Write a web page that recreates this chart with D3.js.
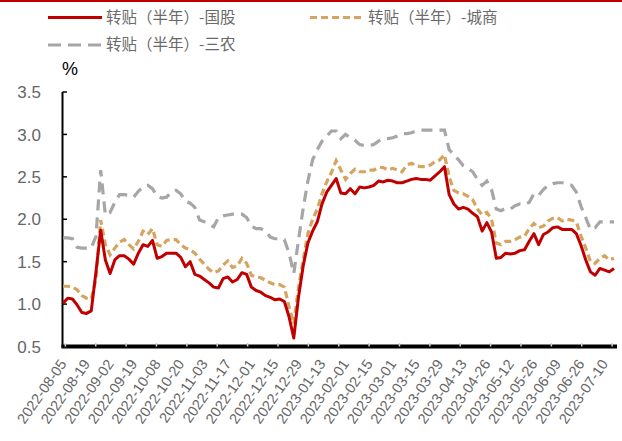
<!DOCTYPE html>
<html><head><meta charset="utf-8">
<script src="https://cdn.jsdelivr.net/npm/d3@7"></script>
<style>html,body{margin:0;padding:0;background:#fff;}svg{display:block;}</style>
</head><body>
<script>
// x tick labels (every 5th data point; one data point = 2 trading days)
const labelDates = ["2022-08-05","2022-08-19","2022-09-02","2022-09-19","2022-10-08","2022-10-20","2022-11-03","2022-11-17","2022-12-01","2022-12-15","2022-12-29","2023-01-13","2023-02-01","2023-02-15","2023-03-01","2023-03-15","2023-03-29","2023-04-13","2023-04-26","2023-05-12","2023-05-26","2023-06-09","2023-06-26","2023-07-10"];
const seriesNames = ["转贴（半年）-国股","转贴（半年）-城商","转贴（半年）-三农"];
const guogu = [1.01,1.07,1.06,0.99,0.90,0.89,0.92,1.38,1.87,1.52,1.36,1.52,1.57,1.57,1.53,1.47,1.60,1.70,1.68,1.75,
1.54,1.56,1.60,1.60,1.60,1.55,1.44,1.50,1.35,1.33,1.29,1.25,1.20,1.19,1.30,1.32,1.26,1.29,1.37,1.35,
1.20,1.16,1.14,1.10,1.08,1.05,1.06,1.03,0.85,0.60,1.08,1.45,1.72,1.86,1.97,2.18,2.32,2.40,2.48,2.31,
2.30,2.36,2.30,2.38,2.37,2.38,2.40,2.45,2.44,2.46,2.45,2.43,2.43,2.45,2.47,2.48,2.47,2.47,2.46,2.51,
2.56,2.62,2.29,2.18,2.12,2.14,2.12,2.07,2.03,1.86,1.96,1.85,1.54,1.55,1.60,1.59,1.60,1.63,1.64,1.74,
1.83,1.70,1.82,1.85,1.90,1.91,1.88,1.88,1.88,1.83,1.69,1.52,1.38,1.34,1.42,1.40,1.38,1.42];
const chengshang = [1.21,1.21,1.20,1.17,1.10,1.07,1.06,1.30,1.99,1.70,1.58,1.66,1.73,1.76,1.70,1.65,1.74,1.86,1.82,1.89,
1.70,1.68,1.75,1.76,1.76,1.70,1.66,1.64,1.60,1.53,1.47,1.41,1.37,1.39,1.46,1.51,1.43,1.45,1.54,1.48,
1.34,1.32,1.31,1.28,1.25,1.23,1.23,1.20,0.97,0.77,1.19,1.52,1.83,2.00,2.12,2.30,2.44,2.55,2.69,2.58,
2.47,2.54,2.59,2.56,2.56,2.58,2.58,2.61,2.61,2.58,2.60,2.58,2.56,2.64,2.66,2.63,2.62,2.62,2.64,2.68,
2.70,2.76,2.50,2.34,2.31,2.30,2.27,2.23,2.12,2.05,2.08,2.00,1.72,1.70,1.74,1.74,1.76,1.79,1.80,1.89,
1.95,1.90,1.92,1.98,2.01,2.02,1.98,2.00,1.99,1.97,1.80,1.66,1.50,1.48,1.54,1.57,1.52,1.54];
const sannong = [1.78,1.78,1.77,1.67,1.66,1.66,1.66,1.80,2.58,2.05,2.08,2.20,2.29,2.29,2.28,2.26,2.33,2.38,2.40,2.36,
2.27,2.25,2.26,2.32,2.34,2.30,2.21,2.19,2.14,1.99,1.97,1.94,1.91,2.02,2.04,2.05,2.06,2.06,2.06,2.02,
1.92,1.89,1.89,1.86,1.79,1.77,1.77,1.76,1.60,1.36,1.75,2.13,2.45,2.70,2.82,2.92,2.98,3.04,3.04,2.95,
3.00,2.96,2.93,2.88,2.87,2.87,2.88,2.92,2.95,2.95,2.96,2.98,3.01,3.01,3.02,3.04,3.05,3.05,3.05,3.05,
3.05,3.05,2.82,2.76,2.70,2.63,2.60,2.56,2.47,2.40,2.45,2.35,2.12,2.10,2.13,2.12,2.16,2.18,2.17,2.20,
2.30,2.28,2.35,2.40,2.42,2.43,2.43,2.42,2.40,2.32,2.15,2.02,1.88,1.90,1.97,1.97,1.97,1.97];
const yTicks = [0.5,1.0,1.5,2.0,2.5,3.0,3.5];

const W = 622, H = 441;
const svg = d3.select("body").append("svg").attr("width", W).attr("height", H);
const n = guogu.length;
const x = d3.scaleLinear().domain([0, n - 1]).range([63, 614]);
const y = d3.scaleLinear().domain([0.5, 3.5]).range([346.5, 92]);

// top red band
svg.append("rect").attr("x", 0).attr("y", 0).attr("width", W).attr("height", 2).attr("fill", "#c00000");

// y axis
svg.append("line").attr("x1", 62.5).attr("x2", 62.5).attr("y1", y(3.5)).attr("y2", 348).attr("stroke", "#000").attr("stroke-width", 2);
svg.selectAll(".ytick").data(yTicks).enter().append("line")
  .attr("x1", 62.5).attr("x2", 67).attr("y1", d => y(d)).attr("y2", d => y(d))
  .attr("stroke", "#000").attr("stroke-width", 1.5);
svg.selectAll(".ylab").data(yTicks).enter().append("text")
  .attr("x", 41).attr("y", d => y(d)).attr("dy", "0.36em").attr("text-anchor", "end")
  .attr("font-family", "Liberation Sans, Arial, sans-serif").attr("font-size", 17).attr("fill", "#666")
  .text(d => d.toFixed(1));

// % unit
svg.append("text").attr("x", 70).attr("y", 75).attr("text-anchor", "middle")
  .attr("font-family", "Liberation Sans, Arial, sans-serif").attr("font-size", 18).attr("fill", "#000").text("%");

// lines
const line = d3.line().x((d, i) => x(i)).y(d => y(d)).curve(d3.curveLinear);
svg.append("path").datum(sannong).attr("d", line).attr("fill", "none")
  .attr("stroke", "#a6a6a6").attr("stroke-width", 3.2).attr("stroke-dasharray", "11,7");
svg.append("path").datum(chengshang).attr("d", line).attr("fill", "none")
  .attr("stroke", "#d6a461").attr("stroke-width", 3.2).attr("stroke-dasharray", "7,4");
svg.append("path").datum(guogu).attr("d", line).attr("fill", "none")
  .attr("stroke", "#c00000").attr("stroke-width", 3).attr("stroke-linejoin", "round");

// x axis
svg.append("line").attr("x1", 61.5).attr("x2", 617).attr("y1", 346.5).attr("y2", 346.5).attr("stroke", "#000").attr("stroke-width", 4);
const tickPos = d3.range(19).map(j => 0.5 + j * 6.45);
svg.selectAll(".xtick").data(tickPos).enter().append("line")
  .attr("x1", d => x(d)).attr("x2", d => x(d)).attr("y1", 343).attr("y2", 346.5)
  .attr("stroke", "#d0d0d0").attr("stroke-width", 1.5);
svg.selectAll(".xlab").data(labelDates).enter().append("text")
  .attr("transform", (d, i) => `translate(${x(i * 5)},361) rotate(-55)`)
  .attr("dy", "0.35em").attr("text-anchor", "end")
  .attr("font-family", "Liberation Sans, Arial, sans-serif").attr("font-size", 14.5).attr("fill", "#666")
  .text(d => d);

// legend
const legend = [
  {name: seriesNames[0], color: "#c00000", dash: null, x: 48, y: 17.5},
  {name: seriesNames[1], color: "#d6a461", dash: "7,4", x: 310, y: 17.5},
  {name: seriesNames[2], color: "#a6a6a6", dash: "13,7", x: 48, y: 45}
];
const lg = svg.selectAll(".lg").data(legend).enter().append("g");
lg.append("line").attr("x1", d => d.x).attr("x2", d => d.x + 54).attr("y1", d => d.y).attr("y2", d => d.y)
  .attr("stroke", d => d.color).attr("stroke-width", 3.2).attr("stroke-dasharray", d => d.dash);
lg.append("text").attr("x", d => d.x + 58).attr("y", d => d.y).attr("dy", "0.35em")
  .attr("font-family", "Noto Sans CJK SC, sans-serif").attr("font-size", 15.5).attr("fill", "#6a6a6a")
  .text(d => d.name);
</script>
</body></html>
